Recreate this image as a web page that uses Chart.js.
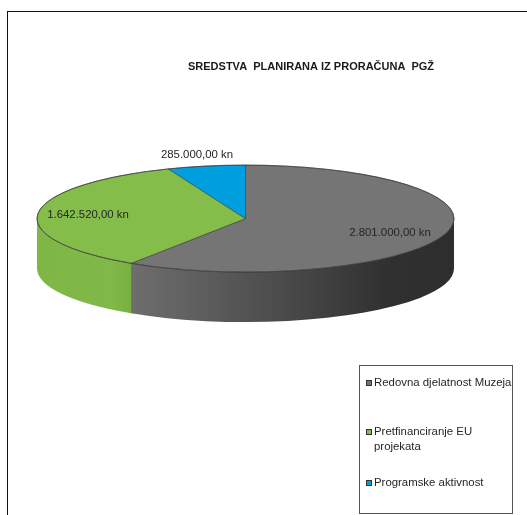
<!DOCTYPE html>
<html><head><meta charset="utf-8">
<style>
html,body{margin:0;padding:0;background:#fff;width:527px;height:515px;overflow:hidden}
#wrap{position:relative;width:527px;height:515px}
#frame{position:absolute;left:7px;top:11px;right:0;bottom:0;border-left:1.5px solid #111;border-top:1.5px solid #111}
canvas{position:absolute;left:0;top:0}
</style>
<script src="https://cdn.jsdelivr.net/npm/chart.js@4/dist/chart.umd.min.js"></script>
</head><body><div id="wrap"><div id="frame"></div><canvas id="c" width="527" height="515"></canvas></div>
<script>
const titleText = 'SREDSTVA  PLANIRANA IZ PRORAČUNA  PGŽ';
const categories = ['Redovna djelatnost Muzeja', 'Pretfinanciranje EU projekata', 'Programske aktivnost'];
const legendLines = [['Redovna djelatnost Muzeja'], ['Pretfinanciranje EU', 'projekata'], ['Programske aktivnost']];
const values = [2801000, 1642520, 285000];
const valueLabels = ['2.801.000,00 kn', '1.642.520,00 kn', '285.000,00 kn'];
const topColors = ['#757575', '#84bd4a', '#00a0e0'];
const sideStops = [
  [[0, '#6e6e6e'], [0.45, '#4c4c4c'], [0.8, '#303030'], [1, '#2e2e2e']],
  [[0, '#7fb746'], [0.8, '#80b948'], [1, '#78b041']],
  [[0, '#0090ca'], [1, '#0090ca']]
];
const labelPos = [[390, 233], [88, 215], [197, 155]];
const PIE = {rx: 208.5, ry: 53.5, depth: 50};
const LEG = {x: 359.5, y: 365.5, w: 153, h: 148, swX: 366, txtX: 374, rows: [[383], [432, 447], [483]]};
const FONT = '11.4px "Liberation Sans", Arial, sans-serif';

const pie3d = {
  id: 'pie3d',
  afterLayout(chart) { chart.titleBlock.left = 188; },
  beforeDatasetsDraw(chart) {
    const ctx = chart.ctx, arcs = chart.getDatasetMeta(0).data;
    const cx = arcs[0].x, cy = arcs[0].y;
    const k = PIE.ry / PIE.rx;
    arcs.forEach((arc, i) => {
      const a0 = Math.max(arc.startAngle, 0), a1 = Math.min(arc.endAngle, Math.PI);
      if (a1 <= a0) return;
      const xa = cx + PIE.rx * Math.cos(a1), xb = cx + PIE.rx * Math.cos(a0);
      const g = ctx.createLinearGradient(xa, 0, xb, 0);
      sideStops[i].forEach(st => g.addColorStop(st[0], st[1]));
      ctx.save();
      ctx.beginPath();
      ctx.ellipse(cx, cy, PIE.rx, PIE.ry, 0, a0, a1);
      ctx.ellipse(cx, cy + PIE.depth, PIE.rx, PIE.ry, 0, a1, a0, true);
      ctx.closePath();
      ctx.fillStyle = g; ctx.fill();
      if (a1 < Math.PI) {
        const sx = cx + PIE.rx * Math.cos(a1), sy = cy + PIE.ry * Math.sin(a1);
        ctx.beginPath(); ctx.moveTo(sx, sy); ctx.lineTo(sx, sy + PIE.depth);
        ctx.lineWidth = 0.7; ctx.strokeStyle = '#4a4a4a'; ctx.stroke();
      }
      ctx.restore();
    });
    ctx.save();
    ctx.translate(cx, cy); ctx.scale(1, k); ctx.translate(-cx, -cy);
  },
  afterDatasetsDraw(chart) {
    const ctx = chart.ctx, a = chart.getDatasetMeta(0).data[0];
    ctx.restore();
    ctx.save();
    ctx.beginPath();
    ctx.ellipse(a.x, a.y, PIE.rx, PIE.ry, 0, 0, 2 * Math.PI);
    ctx.lineWidth = 0.7; ctx.strokeStyle = '#3c3c3c'; ctx.stroke();
    ctx.font = FONT; ctx.fillStyle = '#262626'; ctx.textAlign = 'center'; ctx.textBaseline = 'middle';
    valueLabels.forEach((t, i) => ctx.fillText(t, labelPos[i][0], labelPos[i][1]));
    ctx.strokeStyle = '#555'; ctx.lineWidth = 1; ctx.fillStyle = '#fff';
    ctx.fillRect(LEG.x, LEG.y, LEG.w, LEG.h); ctx.strokeRect(LEG.x, LEG.y, LEG.w, LEG.h);
    ctx.textAlign = 'left';
    legendLines.forEach((lines, i) => {
      const r = LEG.rows[i];
      ctx.fillStyle = topColors[i]; ctx.fillRect(LEG.swX + .5, r[0] - 2.5, 5, 5);
      ctx.strokeStyle = '#333'; ctx.strokeRect(LEG.swX + .5, r[0] - 2.5, 5, 5);
      ctx.fillStyle = '#262626';
      lines.forEach((t, j) => ctx.fillText(t, LEG.txtX, r[j]));
    });
    ctx.restore();
  }
};

new Chart(document.getElementById('c'), {
  type: 'pie',
  data: {labels: categories, datasets: [{data: values, backgroundColor: topColors, borderColor: '#2f2f2f', borderWidth: 0.8, radius: PIE.rx, clip: false}]},
  options: {
    responsive: false, animation: false,
    layout: {padding: {left: 37, right: 73, top: 0, bottom: 151}},
    plugins: {
      legend: {display: false}, tooltip: {enabled: false},
      title: {display: true, text: titleText, align: 'start', color: '#1a1a1a',
        font: {family: '"Liberation Sans", Arial, sans-serif', size: 11, weight: 'bold'},
        padding: {top: 60, bottom: 0}}
    }
  },
  plugins: [pie3d]
});
</script></body></html>
